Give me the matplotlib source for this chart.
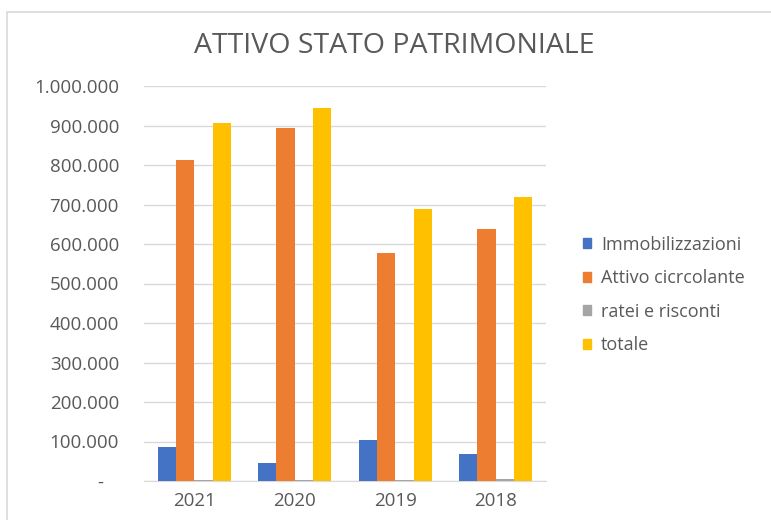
import numpy as np
import matplotlib.pyplot as plt
from matplotlib.patches import Rectangle, Patch
from matplotlib.ticker import FuncFormatter

anni = ["2021", "2020", "2019", "2018"]
immobilizzazioni = [86000, 46000, 104000, 68000]
attivo_circolante = [812000, 893000, 577000, 638000]
ratei_risconti = [3000, 2000, 2000, 5000]
totale = [906000, 944000, 689000, 719000]

serie = ["Immobilizzazioni", "Attivo cicrcolante", "ratei e risconti", "totale"]
colori = ["#4472C4", "#ED7D31", "#A5A5A5", "#FFC000"]
testo = "#595959"

plt.rcParams["font.family"] = ["Open Sans", "DejaVu Sans"]

fig = plt.figure(figsize=(7.71, 5.2), dpi=100)
ax = fig.add_axes([144 / 771, 39 / 520, 402 / 771, 395 / 520])

# bordo del grafico
fig.patches.append(Rectangle((7 / 771, -0.1), 1.2, (520 - 12) / 520 + 0.1,
                             transform=fig.transFigure, fill=False,
                             edgecolor="#d9d9d9", linewidth=1.2))

x = np.arange(len(anni))
w = 0.182
valori = [immobilizzazioni, attivo_circolante, ratei_risconti, totale]
for i, (v, c, nome) in enumerate(zip(valori, colori, serie)):
    ax.bar(x + (i - 1.5) * w, v, width=w, color=c, label=nome, zorder=3)

ax.set_xlim(-0.5, 3.5)
ax.set_ylim(0, 1000000)
ax.set_yticks(np.arange(0, 1000001, 100000))
ax.yaxis.set_major_formatter(FuncFormatter(
    lambda v, p: "-   " if v == 0 else f"{int(v):,}".replace(",", ".")))
ax.set_xticks(x)
ax.set_xticklabels(anni)
ax.grid(axis="y", color="#d9d9d9", linewidth=1, zorder=0)
for s in ["top", "right", "left"]:
    ax.spines[s].set_visible(False)
ax.spines["bottom"].set_color("#d9d9d9")
ax.tick_params(axis="both", length=0, colors=testo, labelsize=13.5)
ax.tick_params(axis="y", pad=18)
ax.tick_params(axis="x", pad=8)

fig.text(394 / 771, 1 - 46 / 520, "ATTIVO STATO PATRIMONIALE", ha="center",
         va="center", fontsize=20.5, color=testo)

handles = [Patch(color=c, label=n) for c, n in zip(colori, serie)]
fig.legend(handles=handles, loc="center left", bbox_to_anchor=(583 / 771, 1 - 295 / 520),
           frameon=False, fontsize=13, labelcolor=testo, handlelength=0.45,
           handleheight=0.45, handletextpad=0.55, labelspacing=0.86,
           borderpad=0, borderaxespad=0)

fig.savefig("out.png", dpi=100)
